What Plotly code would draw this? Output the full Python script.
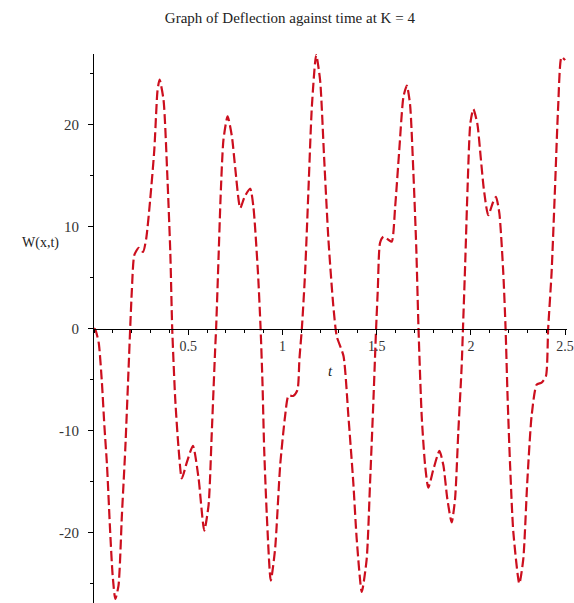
import plotly.graph_objects as go

# Values
t = [0, 0.007, 0.025, 0.042, 0.055, 0.069, 0.086, 0.099, 0.113, 0.13, 0.148, 0.166,
     0.184, 0.192, 0.201, 0.214, 0.237, 0.26, 0.277, 0.298, 0.32, 0.337, 0.348,
     0.369, 0.39, 0.405, 0.415, 0.431, 0.449, 0.466, 0.493, 0.525, 0.555, 0.585,
     0.608, 0.625, 0.643, 0.648, 0.661, 0.672, 0.687, 0.709, 0.732, 0.749, 0.776,
     0.799, 0.829, 0.846, 0.87, 0.884, 0.894, 0.903, 0.917, 0.938, 0.961, 0.988,
     1.014, 1.032, 1.058, 1.08, 1.09, 1.103, 1.12, 1.138, 1.156, 1.179, 1.2, 1.221,
     1.244, 1.27, 1.288, 1.324, 1.35, 1.376, 1.394, 1.421, 1.447, 1.465, 1.483,
     1.497, 1.506, 1.518, 1.536, 1.562, 1.58, 1.598, 1.62, 1.642, 1.66, 1.677,
     1.695, 1.71, 1.722, 1.739, 1.757, 1.774, 1.801, 1.833, 1.854, 1.875, 1.898,
     1.916, 1.933, 1.951, 1.958, 1.97, 1.982, 1.997, 2.013, 2.034, 2.052, 2.069,
     2.092, 2.116, 2.133, 2.151, 2.172, 2.184, 2.195, 2.208, 2.225, 2.257, 2.278,
     2.299, 2.322, 2.349, 2.375, 2.398, 2.41, 2.428, 2.446, 2.463, 2.481, 2.5]
W = [0, -0.1, -1.4, -5.3, -9.5, -13.4, -20, -24.2, -26.5, -25.2, -18.3, -11.8,
     -3.7, 0, 3.8, 7.2, 7.9, 7.5, 8.8, 12.6, 17.5, 23.3, 24.4,
     22.4, 14.6, 7.4, 0, -6.9, -11.8, -14.7, -13.1, -11.5, -14.7, -19.8,
     -17.3, -10.2, -2, 0, 7, 13, 18.5, 20.8, 18.8, 15.8, 11.8,
     12.9, 13.7, 11.9, 5.5, 0, -5.3, -11.8, -18.3, -24.7, -21.6, -13.4,
     -8.6, -6.6, -6.6, -6, -3, 0, 5.4, 13.6, 21.7, 26.8, 24.3, 16.8,
     8.7, 2.2, -0.75, -2.7, -8.6, -15.1, -20.6, -25.8, -22.6, -15.1, -6.9,
     0, 3.8, 8.4, 9, 8.7, 8.5, 11.9, 17.5, 22.7, 23.8, 22,
     15.2, 8, 0, -8.6, -13.4, -15.6, -13.8, -12, -13.4, -16.7, -19,
     -16.7, -10.2, -3.7, 0, 6.5, 13.6, 20.1, 21.5, 20.1, 16.8, 13.6,
     11.1, 12.3, 12.9, 11.3, 5.4, 0, -6.9, -13.4, -19.9, -25, -22.6,
     -15.1, -8.6, -5.5, -5.3, -4.7, 0, 5.4, 13.6, 21.7, 26.6, 26.3]

x_ticks = [0.5, 1, 1.5, 2, 2.5]
x_tick_labels = ["0.5", "1", "1.5", "2", "2.5"]
y_ticks = [-20, -10, 0, 10, 20]
y_tick_labels = ["-20", "-10", "0", "10", "20"]
x_range = [0, 2.51]
y_range = [-26.9, 26.9]

title_text = "Graph of Deflection against time at K = 4"
y_label = "W(x,t)"
x_label = "t"

serif = "Liberation Serif"

fig = go.Figure(
    go.Scatter(
        x=t, y=W, mode="lines",
        line=dict(color="#cc0f1e", width=2.2, dash="10px,4px", shape="spline", smoothing=0.6),
        hoverinfo="skip",
    )
)

zero_pos = (0 - y_range[0]) / (y_range[1] - y_range[0])

fig.update_layout(
    width=574, height=603,
    margin=dict(l=94, r=7, t=54, b=0),
    paper_bgcolor="white", plot_bgcolor="white",
    showlegend=False,
    title=dict(
        text=title_text, xref="container", yref="container",
        x=0.505, y=1 - 18 / 603, xanchor="center", yanchor="middle",
        font=dict(family=serif, size=15, color="#222222"),
    ),
    xaxis=dict(
        range=x_range, anchor="free", position=zero_pos,
        showline=True, linecolor="black", linewidth=1,
        ticks="outside", ticklen=5, tickcolor="black", tickwidth=1,
        tickmode="array", tickvals=x_ticks, ticktext=x_tick_labels,
        tickfont=dict(family=serif, size=14, color="#333333"),
        showgrid=False, zeroline=False,
        minor=dict(dtick=0.1, tick0=0, ticks="outside", ticklen=3, tickcolor="black", showgrid=False),
    ),
    yaxis=dict(
        range=y_range,
        showline=True, linecolor="black", linewidth=1,
        ticks="outside", ticklen=5, tickcolor="black", tickwidth=1,
        ticklabelstandoff=6,
        tickmode="array", tickvals=y_ticks, ticktext=y_tick_labels,
        tickfont=dict(family=serif, size=15, color="#333333"),
        showgrid=False, zeroline=False,
        minor=dict(dtick=5, tick0=0, ticks="outside", ticklen=3, tickcolor="black", showgrid=False),
    ),
    annotations=[
        dict(text=y_label, xref="paper", yref="y", x=-0.114, y=8.4,
             xanchor="center", yanchor="middle", showarrow=False,
             font=dict(family=serif, size=14, color="#222222")),
        dict(text="<i>" + x_label + "</i>", xref="x", yref="y", x=1.253, y=-4.2,
             xanchor="center", yanchor="middle", showarrow=False,
             font=dict(family=serif, size=15, color="#222222")),
    ],
)

fig.write_html("out.html")
